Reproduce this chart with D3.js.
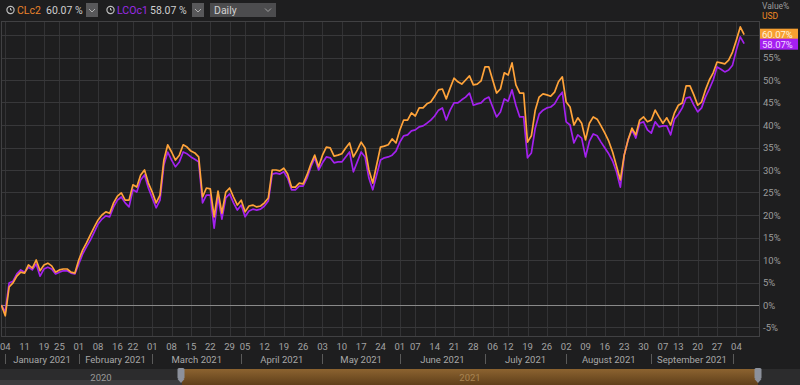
<!DOCTYPE html>
<html>
<head>
<meta charset="utf-8">
<script src="https://cdn.jsdelivr.net/npm/d3@7"></script>
<style>
  html, body { margin: 0; padding: 0; background: #1e1e1f; }
  svg { display: block; font-family: Roboto, "Open Sans", sans-serif; }
</style>
</head>
<body>
<svg width="800" height="385"></svg>
<script>
// trading calendar: weekdays from 31 Dec 2020 to 6 Oct 2021, minus exchange holidays
var holidays = ["2021-01-01", "2021-01-18", "2021-02-15", "2021-04-02", "2021-05-31", "2021-07-05", "2021-09-06"];

// % change since 31 Dec 2020, one value per trading day
var clc2 = [
    0,
    -2.4, 4.0, 4.9, 6.4, 7.3, 7.1, 8.9, 8.2, 10.0, 7.6, 8.9, 9.3, 8.7, 7.3, 7.8, 8.0, 8.0, 7.3, 7.1,            // Jan
    10.0, 12.2, 13.8, 15.6, 17.3, 18.9, 20.0, 20.7, 20.4, 22.7, 24.2, 24.9, 23.3, 23.3, 26.7, 26.2, 28.9, 30.0, 27.1, // Feb
    25.1, 22.7, 24.4, 32.2, 35.6, 34.0, 32.2, 33.3, 35.6, 35.1, 34.2, 33.8, 32.9, 24.0, 26.0, 25.8, 19.6, 25.3, 20.4, 25.1, 26.0, 24.0, 22.2, // Mar
    23.3, 20.7, 22.0, 22.2, 21.8, 22.0, 22.7, 23.8, 30.0, 30.0, 29.8, 30.4, 29.1, 26.2, 26.2, 27.1, 26.9, 28.9, 31.3, 33.3, 30.7, // Apr
    33.3, 35.1, 34.9, 33.1, 33.3, 33.6, 34.9, 36.0, 32.9, 34.4, 36.2, 34.9, 30.0, 27.1, 31.1, 35.1, 35.3, 35.6, 36.9, 36.0, // May
    38.9, 41.1, 41.1, 42.7, 42.0, 43.8, 43.8, 44.7, 45.1, 46.4, 47.8, 48.0, 45.8, 48.2, 50.4, 49.6, 49.1, 50.0, 50.9, 48.9, 49.1, 49.8, // Jun
    52.9, 52.9, 50.0, 47.1, 48.0, 51.6, 51.1, 53.8, 48.9, 47.1, 47.1, 36.2, 37.6, 43.3, 46.2, 46.9, 46.7, 46.4, 47.3, 49.6, 50.7, // Jul
    45.1, 44.0, 40.0, 41.6, 40.4, 36.7, 40.4, 41.8, 41.3, 39.8, 38.2, 36.4, 34.0, 30.9, 27.8, 33.3, 36.7, 39.3, 37.8, 41.1, 41.8, 40.7, // Aug
    41.1, 43.3, 41.8, 40.4, 41.6, 40.0, 42.7, 44.4, 44.9, 48.7, 48.7, 46.7, 44.4, 45.1, 47.8, 50.0, 51.6, 54.0, 53.8, 53.6, 54.4, // Sep
    56.2, 58.9, 61.8, 60.07                                                                              // Oct
];

var lcoc1 = [
    0,
    -1.6, 4.9, 5.3, 6.9, 7.8, 7.3, 8.4, 7.8, 9.1, 6.4, 8.0, 8.4, 8.0, 6.9, 7.3, 7.6, 7.6, 7.1, 6.9,
    9.1, 11.3, 12.9, 14.4, 16.2, 18.0, 19.1, 19.8, 19.6, 21.8, 23.3, 24.0, 22.7, 21.8, 25.6, 25.1, 27.8, 28.9, 26.0,
    23.8, 21.6, 23.3, 31.1, 34.0, 32.2, 30.7, 31.8, 34.0, 33.6, 32.9, 32.4, 31.8, 22.7, 24.4, 24.4, 17.1, 24.0, 19.1, 23.8, 24.7, 22.7, 21.1,
    22.2, 19.6, 20.9, 21.3, 21.1, 21.3, 22.0, 23.1, 29.1, 29.3, 29.1, 29.6, 28.2, 25.6, 25.6, 26.4, 26.4, 28.2, 30.7, 32.7, 30.0,
    31.6, 32.9, 32.7, 31.6, 31.8, 31.8, 32.9, 34.0, 29.6, 31.8, 34.0, 32.9, 28.2, 25.6, 28.9, 32.2, 32.7, 32.9, 33.3, 34.2,
    36.2, 37.6, 37.8, 38.7, 38.9, 39.6, 39.8, 40.4, 41.1, 42.0, 43.3, 43.8, 41.1, 43.3, 44.9, 44.9, 45.6, 46.2, 47.1, 44.4, 44.7, 44.9,
    45.8, 46.2, 44.0, 41.8, 42.9, 45.8, 45.3, 47.8, 44.4, 41.8, 41.8, 32.7, 33.8, 39.3, 42.4, 43.3, 43.8, 44.0, 44.7, 46.2, 47.3,
    40.7, 40.0, 36.0, 37.8, 37.1, 32.9, 36.4, 38.0, 37.6, 36.2, 34.9, 33.6, 32.0, 29.6, 26.2, 33.3, 36.7, 38.9, 37.1, 40.4, 40.7, 38.9,
    38.2, 40.7, 39.6, 39.8, 39.8, 37.8, 41.3, 42.4, 43.8, 46.0, 46.2, 44.4, 42.9, 43.8, 46.2, 48.0, 50.0, 52.9, 52.4, 51.8, 52.2,
    53.3, 56.7, 59.6, 58.07
];

var yTicks = [-5, 0, 5, 10, 15, 20, 25, 30, 35, 40, 45, 50, 55, 60];
var seriesNames = ["CLc2", "LCOc1"];
var seriesColors = ["#ffa33a", "#a321ee"];

var fmt = d3.timeFormat("%Y-%m-%d");
var days = d3.timeDay.range(new Date(2020, 11, 31), new Date(2021, 9, 7))
    .filter(function(d) {
        return d.getDay() != 0 && d.getDay() != 6 && holidays.indexOf(fmt(d)) < 0;
    });

var svg = d3.select("svg");
var plotL = 1, plotR = 760, plotT = 21, plotB = 337;

var x = d3.scaleLinear().domain([-0.1, 196.1]).range([plotL, plotR]);
var y = d3.scaleLinear().domain([0, 55]).range([305, 57.5]);

// first trading day of each week / month
var weekStarts = [], monthStarts = [];
days.forEach(function(d, i) {
    if (i == 0) return;
    var prev = days[i - 1];
    if (+d3.timeMonday.floor(d) != +d3.timeMonday.floor(prev)) weekStarts.push(i);
    if (d.getMonth() != prev.getMonth()) monthStarts.push(i);
});

var defs = svg.append("defs");
defs.append("clipPath").attr("id", "plot")
    .append("rect").attr("x", plotL).attr("y", plotT).attr("width", plotR - plotL).attr("height", plotB - plotT);

// grid
var grid = svg.append("g");
grid.selectAll(".vg").data(weekStarts).enter().append("line")
    .attr("x1", function(i) { return Math.round(x(i)) + 0.5; })
    .attr("x2", function(i) { return Math.round(x(i)) + 0.5; })
    .attr("y1", plotT).attr("y2", plotB)
    .attr("stroke", "#333335").attr("stroke-width", 1);
grid.selectAll(".hg").data(yTicks).enter().append("line")
    .attr("x1", plotL).attr("x2", plotR)
    .attr("y1", function(v) { return Math.round(y(v)) + 0.5; })
    .attr("y2", function(v) { return Math.round(y(v)) + 0.5; })
    .attr("stroke", function(v) { return v == 0 ? "#8a8a8a" : "#38383a"; })
    .attr("stroke-width", 1);

svg.append("rect")
    .attr("x", plotL + 0.5).attr("y", plotT + 0.5)
    .attr("width", plotR - plotL - 1).attr("height", plotB - plotT - 1)
    .attr("fill", "none").attr("stroke", "#414143");

// lines
var line = d3.line()
    .x(function(v, i) { return x(i); })
    .y(function(v) { return y(v); });

var lines = svg.append("g").attr("clip-path", "url(#plot)");
[lcoc1, clc2].forEach(function(s, k) {
    lines.append("path")
        .datum(s)
        .attr("d", line)
        .attr("fill", "none")
        .attr("stroke", seriesColors[1 - k])
        .attr("stroke-width", 1.7)
        .attr("stroke-linejoin", "round");
});

// y axis labels (right); the 60% one sits under the value tags
svg.selectAll(".yl").data(yTicks.filter(function(v) { return v < 60; })).enter().append("text")
    .attr("x", 763).attr("y", function(v) { return y(v) + 3.5; })
    .text(function(v) { return v + "%"; })
    .style("fill", "#9c9c9c").style("font-size", "9.5px");

svg.append("text").attr("x", 762).attr("y", 9).text("Value%")
    .style("fill", "#9c9c9c").style("font-size", "8.5px");
svg.append("text").attr("x", 762).attr("y", 19).text("USD")
    .style("fill", "#f08a24").style("font-size", "8.5px");

// last value tags
var lastVals = [clc2[clc2.length - 1], lcoc1[lcoc1.length - 1]];
var tagY = [y(lastVals[0]) - 6, y(lastVals[0]) + 4];
lastVals.forEach(function(v, k) {
    svg.append("rect").attr("x", 760).attr("y", tagY[k])
        .attr("width", 38).attr("height", 11)
        .attr("fill", k == 0 ? "#f7a031" : "#a51ff0");
    svg.append("text").attr("x", 762).attr("y", tagY[k] + 9)
        .text(d3.format(".2f")(v) + "%")
        .style("fill", k == 0 ? "#fff3dc" : "#f0d8ff").style("font-size", "9.5px");
});

// x axis: day labels
svg.selectAll(".xl").data(weekStarts).enter().append("text")
    .attr("x", function(i) { return x(i); })
    .attr("y", 350)
    .attr("text-anchor", "middle")
    .text(function(i) { return d3.timeFormat("%d")(days[i]); })
    .style("fill", "#a3a3a3").style("font-size", "9.5px");

// month dividers and labels
svg.selectAll(".md").data(monthStarts).enter().append("line")
    .attr("x1", function(i) { return Math.round(x(i)) + 0.5; })
    .attr("x2", function(i) { return Math.round(x(i)) + 0.5; })
    .attr("y1", 354).attr("y2", 364)
    .attr("stroke", "#5a5a5a");
svg.selectAll(".ml").data(monthStarts.slice(0, -1)).enter().append("text")
    .attr("x", function(i, k) { return (x(i) + x(monthStarts[k + 1])) / 2; })
    .attr("y", 363)
    .attr("text-anchor", "middle")
    .text(function(i) { return d3.timeFormat("%B %Y")(days[i]); })
    .style("fill", "#a8a8a8").style("font-size", "9.5px");

// navigator
var nav = svg.append("g");
var grad = defs.append("linearGradient").attr("id", "navgrad")
    .attr("x1", 0).attr("y1", 0).attr("x2", 0).attr("y2", 1);
grad.append("stop").attr("offset", "0%").attr("stop-color", "#8c6330");
grad.append("stop").attr("offset", "100%").attr("stop-color", "#5f3f1a");
nav.append("rect").attr("x", 0).attr("y", 369).attr("width", 800).attr("height", 16).attr("fill", "#2c2c2d");
nav.append("rect").attr("x", 0).attr("y", 380).attr("width", 182).attr("height", 5).attr("fill", "#3c3c3e");
nav.append("rect").attr("x", 182).attr("y", 369).attr("width", 576).attr("height", 16).attr("fill", "url(#navgrad)");
nav.append("text").attr("x", 101).attr("y", 381).attr("text-anchor", "middle").text("2020")
    .style("fill", "#9a9a9a").style("font-size", "9.5px");
nav.append("text").attr("x", 470).attr("y", 381).attr("text-anchor", "middle").text("2021")
    .style("fill", "#a88452").style("font-size", "9.5px");
[181, 758].forEach(function(hx) {
    nav.append("rect").attr("x", hx - 3.5).attr("y", 368).attr("width", 7).attr("height", 11)
        .attr("rx", 1.5).attr("fill", "#8c919c");
    nav.append("path").attr("d", "M" + (hx - 3.5) + ",379 L" + hx + ",383 L" + (hx + 3.5) + ",379Z")
        .attr("fill", "#8c919c");
});

// header controls
var head = svg.append("g");
var headVals = ["60.07 %", "58.07 %"];
var hx = [5, 105];
seriesNames.forEach(function(name, k) {
    var g = head.append("g").attr("transform", "translate(" + hx[k] + ",0)");
    g.append("circle").attr("cx", 5.5).attr("cy", 10).attr("r", 3.6)
        .attr("fill", "none").attr("stroke", "#bdbdbd").attr("stroke-width", 1.2);
    g.append("path").attr("d", "M5.5,8 L5.5,10 L7,10").attr("fill", "none")
        .attr("stroke", "#bdbdbd").attr("stroke-width", 1);
    g.append("text").attr("x", 12).attr("y", 14).text(name)
        .style("fill", k == 0 ? "#e8822c" : "#9a2be6").style("font-size", "10.5px");
    g.append("text").attr("x", k == 0 ? 41 : 45).attr("y", 14).text(headVals[k])
        .style("fill", "#cfcfcf").style("font-size", "10.5px");
    var bx = k == 0 ? 81 : 87;
    g.append("rect").attr("x", bx).attr("y", 3).attr("width", 12).attr("height", 14).attr("fill", "#58585a");
    g.append("path").attr("d", "M" + (bx + 3) + ",9 L" + (bx + 6) + ",12 L" + (bx + 9) + ",9")
        .attr("fill", "none").attr("stroke", "#b0b0b0").attr("stroke-width", 1);
});
head.append("rect").attr("x", 210).attr("y", 3).attr("width", 66).attr("height", 14).attr("fill", "#4c4c4e");
head.append("text").attr("x", 214).attr("y", 14).text("Daily")
    .style("fill", "#d0d0d0").style("font-size", "10.5px");
head.append("path").attr("d", "M265,8.5 L268,11.5 L271,8.5")
    .attr("fill", "none").attr("stroke", "#a0a0a0").attr("stroke-width", 1);
</script>
</body>
</html>
